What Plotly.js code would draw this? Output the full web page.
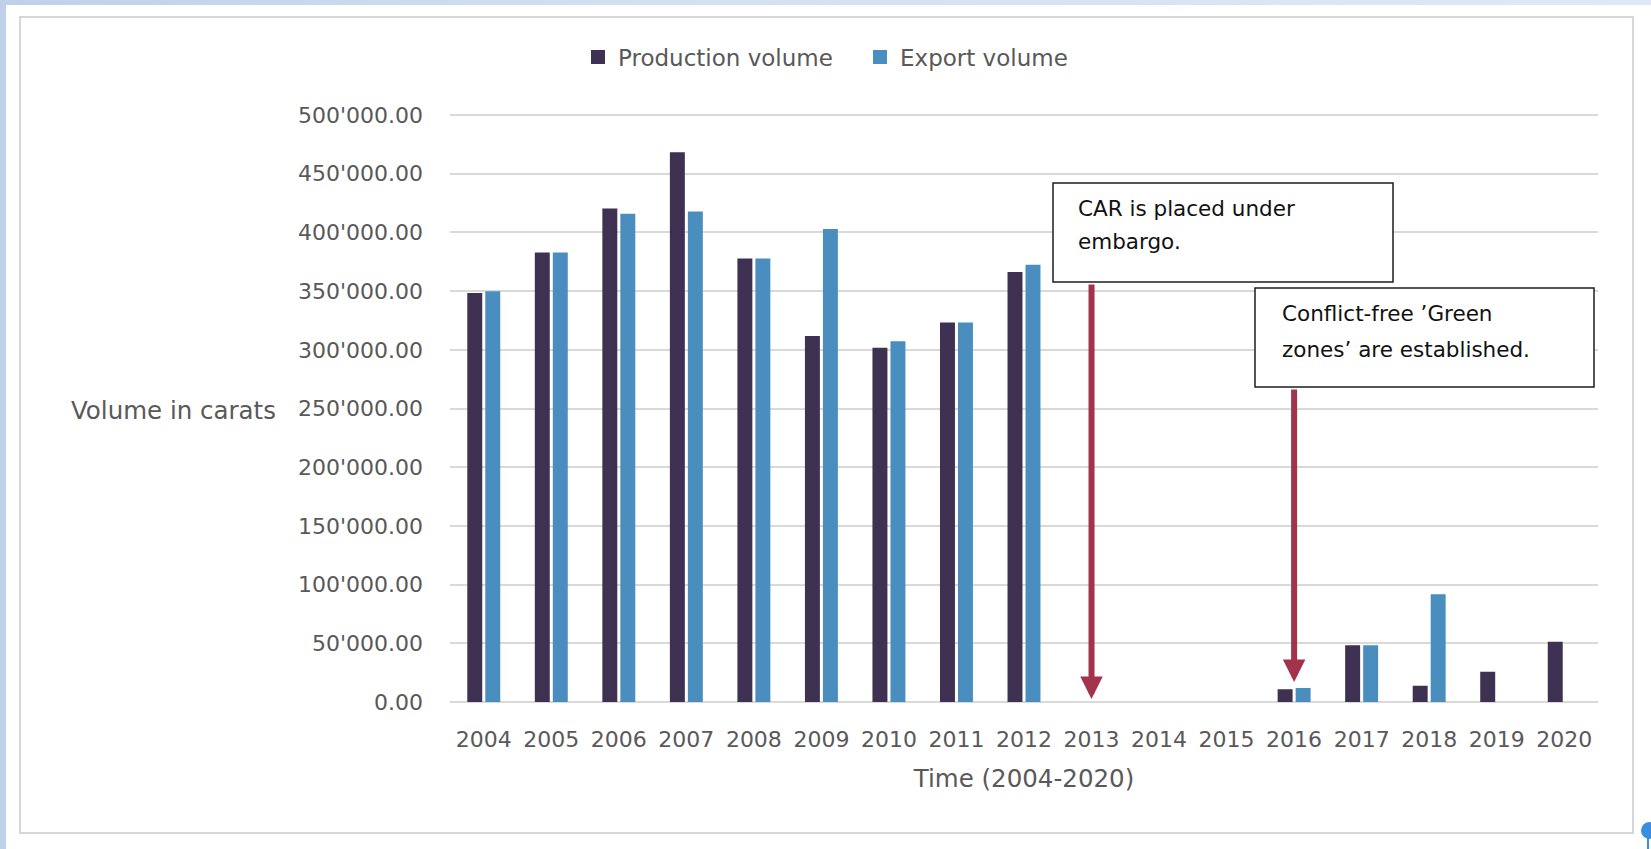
<!DOCTYPE html>
<html>
<head>
<meta charset="utf-8">
<script src="https://cdn.plot.ly/plotly-3.0.1.min.js"></script>
<style>
html,body{margin:0;padding:0;width:1651px;height:849px;overflow:hidden;background:linear-gradient(90deg,#bfd1e9 0%,#d3e0f0 40%,#dfe8f4 100%);}
#panel{position:absolute;left:6px;top:5px;right:0;bottom:0;background:#ffffff;}
#frame{position:absolute;left:19px;top:16px;width:1615px;height:818px;border:2px solid #d6d6d6;box-sizing:border-box;}
#chart{position:absolute;left:0;top:0;width:1651px;height:849px;}
#dot{position:absolute;left:1641px;top:822px;width:17px;height:17px;border-radius:50%;background:#3b8de0;}
#dotline{position:absolute;left:1647px;top:836px;width:2px;height:13px;background:#3b8de0;}
</style>
</head>
<body>
<div id="panel"></div>
<div id="frame"></div>
<div id="dot"></div><div id="dotline"></div>
<div id="chart"></div>
<script>
// ---- data ----
const years = ['2004','2005','2006','2007','2008','2009','2010','2011','2012','2013','2014','2015','2016','2017','2018','2019','2020'];
const production = [347500, 382000, 419500, 467500, 377000, 311000, 301000, 322500, 365500, null, null, null, 10000, 47500, 13000, 25000, 50500];
const exportVolume = [349000, 382000, 415000, 417000, 377000, 402000, 306500, 322500, 371500, null, null, null, 11000, 47500, 91000, null, null];
const seriesNames = ['Production volume', 'Export volume'];
const yTicks = [0, 50000, 100000, 150000, 200000, 250000, 300000, 350000, 400000, 450000, 500000];
const notes = [
  {year: '2013', lines: ['CAR is placed under', 'embargo.']},
  {year: '2016', lines: ['Conflict-free \u2019Green', 'zones\u2019 are established.']}
];

// ---- layout geometry (pixels) ----
const W = 1651, H = 849;
const L = 450, R = 1598, B = 702;
const Y500 = 115;            // pixel row of the 500'000 gridline
const YMAX = 500000;
const T = 112;               // plot top, a little above the top gridline so it is drawn
const pxPerUnit = (B - Y500) / YMAX;
const yTop = (B - T) / pxPerUnit;
const px2x = p => (p - L) / (R - L);
const py2y = p => (B - p) / (B - T);
const py2v = p => (B - p) / pxPerUnit;

const axisFont = 'DejaVu Sans, sans-serif';
const noteFont = 'DejaVu Sans, sans-serif';
const grey = '#595959';
const darkCol = '#3e3151', blueCol = '#4a8ebf';

const traces = [
  {type: 'bar', name: seriesNames[0], x: years, y: production, marker: {color: darkCol, line: {color: darkCol, width: 2}}, hoverinfo: 'skip'},
  {type: 'bar', name: seriesNames[1], x: years, y: exportVolume, marker: {color: blueCol, line: {color: blueCol, width: 2}}, hoverinfo: 'skip'}
];

// annotation boxes in px
const boxes = [
  {x0: 1053, y0: 183, x1: 1393, y1: 282, tx: 1076, ty: [208, 242], tip: 699},
  {x0: 1255, y0: 288, x1: 1594, y1: 387, tx: 1280, ty: [313, 349], tip: 682}
];

const shapes = [];
const annotations = [];
boxes.forEach((b, i) => {
  shapes.push({type: 'rect', xref: 'paper', yref: 'paper', layer: 'above',
    x0: px2x(b.x0), x1: px2x(b.x1), y0: py2y(b.y1), y1: py2y(b.y0),
    fillcolor: '#ffffff', line: {color: '#1e1e1e', width: 1.5}});
  notes[i].lines.forEach((t, j) => {
    annotations.push({xref: 'paper', yref: 'paper', x: px2x(b.tx), y: py2y(b.ty[j]),
      xanchor: 'left', yanchor: 'middle', text: t, showarrow: false,
      font: {family: noteFont, size: 21.5, color: '#111111'}});
  });
  const idx = years.indexOf(notes[i].year);
  annotations.push({xref: 'x', yref: 'y', x: idx, y: py2v(b.tip), axref: 'x', ayref: 'y', ax: idx, ay: py2v(b.y1 + 1),
    text: '', showarrow: true, arrowhead: 2, arrowsize: 0.75, arrowwidth: 6, arrowcolor: '#a3324b', standoff: 0, startstandoff: 0});
});

annotations.push({xref: 'paper', yref: 'paper', x: px2x(278), y: py2y(410), xanchor: 'right', yanchor: 'middle',
  text: 'Volume in carats', showarrow: false, font: {family: axisFont, size: 24.5, color: grey}});

const layout = {
  width: W, height: H,
  margin: {l: L, r: W - R, t: T, b: H - B, pad: 0},
  paper_bgcolor: 'rgba(0,0,0,0)', plot_bgcolor: 'rgba(0,0,0,0)',
  separators: ".'",
  barmode: 'group', bargap: 0.467, bargroupgap: 0.28,
  showlegend: true,
  legend: {orientation: 'h', x: px2x(578), xanchor: 'left', y: py2y(57), yanchor: 'middle',
    entrywidthmode: 'pixels', entrywidth: 237,
    font: {family: axisFont, size: 23, color: grey}, bgcolor: 'rgba(0,0,0,0)', traceorder: 'normal'},
  xaxis: {type: 'category', showgrid: false, zeroline: false, showline: false, ticks: '',
    tickfont: {family: axisFont, size: 22, color: grey}, ticklabelstandoff: 22, fixedrange: true,
    title: {text: 'Time (2004-2020)', font: {family: axisFont, size: 24.5, color: grey}, standoff: 18}},
  yaxis: {range: [0, yTop], tickvals: yTicks, tickformat: ',.2f', showgrid: true, gridcolor: '#d9d9d9', gridwidth: 2,
    zeroline: true, zerolinecolor: '#d9d9d9', zerolinewidth: 2, showline: false, ticks: '',
    tickfont: {family: axisFont, size: 22, color: grey}, ticklabelstandoff: 26, fixedrange: true},
  shapes: shapes,
  annotations: annotations
};

Plotly.newPlot('chart', traces, layout, {displayModeBar: false, staticPlot: true});
</script>
</body>
</html>
